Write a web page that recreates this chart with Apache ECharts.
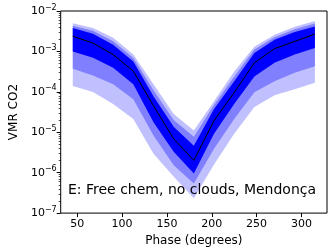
<!DOCTYPE html>
<html>
<head>
<meta charset="utf-8">
<script src="https://cdn.jsdelivr.net/npm/echarts@6/dist/echarts.min.js"></script>
<style>
html,body{margin:0;padding:0;background:#fff;}
#c{width:332px;height:252px;}
</style>
</head>
<body>
<div id="c"></div>
<script>
// Phase (degrees)
var phases = [45, 67.5, 90, 112.5, 135, 157.5, 180, 202.5, 225, 247.5, 270, 292.5, 315];
// Median CO2 VMR
var median = [2.37e-3, 1.61e-3, 8.35e-4, 3.25e-4, 4.51e-5, 6.89e-6, 2.02e-6, 1.94e-5, 9.6e-5, 5.23e-4, 1.17e-3, 1.77e-3, 2.68e-3];
// 1-sigma band
var s1Upper = [3.77e-3, 2.73e-3, 1.47e-3, 5.62e-4, 7.80e-5, 1.36e-5, 4.64e-6, 3.75e-5, 1.82e-4, 9.18e-4, 1.95e-3, 3.01e-3, 4.12e-3];
var s1Lower = [1.00e-3, 6.93e-4, 3.94e-4, 1.53e-4, 1.77e-5, 3.31e-6, 9.55e-7, 9.14e-6, 4.97e-5, 2.41e-4, 5.23e-4, 8.35e-4, 1.22e-3];
// 2-sigma band
var s2Upper = [4.29e-3, 3.24e-3, 1.79e-3, 6.85e-4, 1.09e-4, 2.01e-5, 7.71e-6, 4.70e-5, 2.41e-4, 1.11e-3, 2.24e-3, 3.52e-3, 4.94e-3];
var s2Lower = [3.72e-4, 2.55e-4, 1.53e-4, 6.59e-5, 8.30e-6, 1.53e-6, 5.43e-7, 3.92e-6, 2.13e-5, 9.77e-5, 1.82e-4, 2.97e-4, 4.31e-4];
// 3-sigma band
var s3Upper = [5.00e-3, 3.77e-3, 2.18e-3, 8.35e-4, 1.53e-4, 2.82e-5, 1.10e-5, 5.89e-5, 3.20e-4, 1.31e-3, 2.58e-3, 4.06e-3, 5.69e-3];
var s3Lower = [1.40e-4, 9.95e-5, 4.97e-5, 2.13e-5, 2.96e-6, 8.07e-7, 2.33e-7, 1.59e-6, 9.14e-6, 4.20e-5, 8.26e-5, 1.16e-4, 1.69e-4];

var xTicks = [50, 100, 150, 200, 250, 300];
var yMajor = [1e-7, 1e-6, 1e-5, 1e-4, 1e-3, 1e-2];
var yMinor = [];
for (var e = -7; e < -2; e++) { for (var m = 2; m <= 9; m++) { yMinor.push(m * Math.pow(10, e)); } }

var chart = echarts.init(document.getElementById('c'), null, {renderer: 'canvas'});

function band(upper, lower, color, z) {
  return {
    type: 'custom',
    z: z,
    clip: true,
    silent: true,
    data: phases.map(function (p, i) { return [p, upper[i], lower[i]]; }),
    encode: {x: 0, y: [1, 2]},
    renderItem: function (params, api) {
      if (params.dataIndex !== 0) return null;
      var pts = [];
      for (var i = 0; i < phases.length; i++) pts.push(api.coord([phases[i], upper[i]]));
      for (var j = phases.length - 1; j >= 0; j--) pts.push(api.coord([phases[j], lower[j]]));
      return {
        type: 'polygon',
        shape: {points: pts},
        style: {fill: color, stroke: null}
      };
    }
  };
}

var font = 'DejaVu Sans';
var option = {
  animation: false,
  backgroundColor: '#fff',
  grid: {left: 50, right: 5, top: 11, bottom: 37, show: true, borderColor: '#000', borderWidth: 1, backgroundColor: 'transparent', z: 10},
  xAxis: {
    type: 'value', min: 31.5, max: 328.5,
    name: 'Phase (degrees)', nameLocation: 'middle', nameGap: 21,
    nameTextStyle: {fontFamily: font, fontSize: 12, color: '#000'},
    axisLine: {show: false},
    splitLine: {show: false},
    axisTick: {show: true, inside: false, length: 4, lineStyle: {color: '#000', width: 1}, customValues: xTicks},
    axisLabel: {fontFamily: font, fontSize: 11, color: '#000', margin: 6, customValues: xTicks}
  },
  yAxis: [{
    type: 'log', logBase: 10, min: 1e-7, max: 1e-2,
    name: 'VMR CO2', nameLocation: 'middle', nameGap: 40,
    nameTextStyle: {fontFamily: font, fontSize: 12, color: '#000'},
    axisLine: {show: false},
    splitLine: {show: false},
    axisTick: {show: true, length: 4, lineStyle: {color: '#000', width: 1}, customValues: yMajor},
    axisLabel: {
      fontFamily: font, fontSize: 11, color: '#000', margin: 4, customValues: yMajor,
      formatter: function (v) {
        var ex = Math.round(Math.log10(v));
        return '10{sup|\u2212' + Math.abs(ex) + '}';
      },
      rich: {sup: {fontFamily: font, fontSize: 8, verticalAlign: 'top', padding: [0, 0, 7, 0], color: '#000'}}
    }
  }, {
    type: 'log', logBase: 10, min: 1e-7, max: 1e-2, position: 'left',
    axisLine: {show: false}, splitLine: {show: false},
    axisLabel: {show: false},
    axisTick: {show: true, length: 2, lineStyle: {color: '#000', width: 0.7}, customValues: yMinor}
  }],
  series: [
    band(s3Upper, s3Lower, '#c0c0ff', 1),
    band(s2Upper, s2Lower, '#8080ff', 2),
    band(s1Upper, s1Lower, '#0000ff', 3),
    {
      type: 'line', z: 4, data: phases.map(function (p, i) { return [p, median[i]]; }),
      showSymbol: false, symbol: 'none', lineStyle: {color: '#000', width: 1}, silent: true
    }
  ],
  graphic: [{
    type: 'text', left: 68, top: 183, z: 20,
    style: {text: 'E: Free chem, no clouds, Mendonça', fontFamily: font, fontSize: 14, fill: '#000'}
  }]
};
chart.setOption(option);
</script>
</body>
</html>
